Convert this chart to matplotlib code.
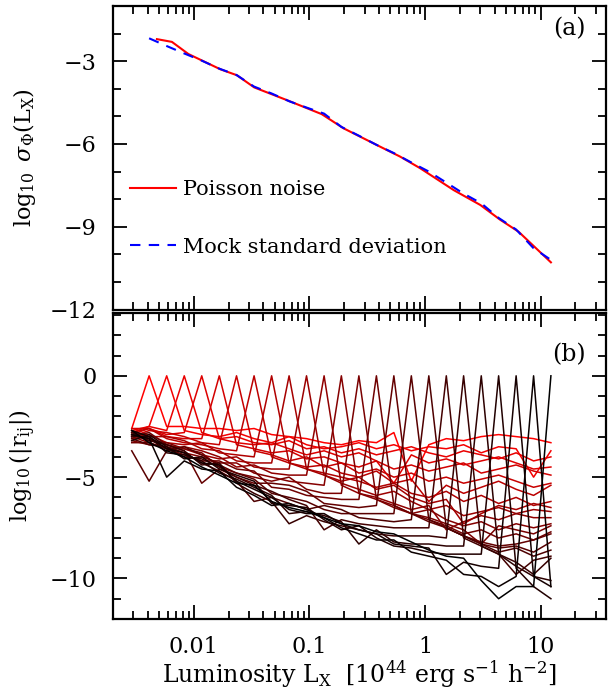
import numpy as np
import matplotlib
matplotlib.use("Agg")
import matplotlib.pyplot as plt
from matplotlib.ticker import LogLocator, MultipleLocator, NullFormatter

plt.rcParams['font.family'] = ['DejaVu Serif']
plt.rcParams['mathtext.fontset'] = 'dejavuserif'

# luminosity bin centres [1e44 erg s^-1 h^-2]
lx_bins = [0.0029, 0.0041, 0.00582, 0.00826, 0.0117, 0.0166, 0.0234, 0.0332,
           0.0471, 0.0667, 0.0944, 0.134, 0.189, 0.268, 0.380, 0.538, 0.762,
           1.08, 1.53, 2.16, 3.07, 4.34, 6.15, 8.71, 12.3]

# panel (a): Poisson noise (red) and mock standard deviation (blue dashed)
lx_poisson = [0.00479, 0.00646, 0.00897, 0.0169, 0.0236, 0.0333, 0.0638, 0.128,
              0.197, 0.384, 0.611, 0.910, 1.77, 3.01, 4.49, 6.46, 12.3]
sigma_poisson = [-2.20, -2.30, -2.74, -3.29, -3.51, -3.95, -4.41, -4.92,
                 -5.43, -6.04, -6.46, -6.88, -7.67, -8.21, -8.75, -9.18, -10.29]
lx_mock = lx_bins[1:]
sigma_mock = [-2.17, -2.45, -2.72, -2.98, -3.27, -3.50, -3.92, -4.17, -4.45,
              -4.68, -4.90, -5.38, -5.70, -6.03, -6.33, -6.67, -7.00, -7.40,
              -7.80, -8.15, -8.68, -9.10, -9.78, -10.20]

# panel (b): log10|r_ij|, upper triangle, row i holds j = i+1 .. 24
corr_upper = [
    [-2.6, -2.8, -2.7, -2.9, -2.6, -3.0, -2.8, -2.9, -3.1, -2.7, -3.0, -3.2,
     -2.9, -3.3, -3.0, -3.7, -3.1, -2.9, -2.8, -3.0, -3.2, -2.7, -2.9, -2.7],
    [-2.5, -2.5, -2.6, -2.6, -2.7, -2.6, -2.9, -3.0, -3.1, -3.3, -3.4, -3.2,
     -3.3, -2.8, -5.2, -3.4, -3.1, -3.2, -3.0, -2.9, -3.0, -3.1, -3.3],
    [-2.7, -2.9, -3.0, -2.8, -3.1, -3.3, -3.0, -3.4, -3.6, -3.5, -3.3, -3.6,
     -3.4, -3.7, -3.5, -3.6, -3.4, -3.8, -3.5, -3.6, -5.0, -3.7],
    [-2.8, -3.1, -3.0, -3.3, -3.4, -3.2, -3.6, -3.5, -3.8, -3.6, -3.9, -3.7,
     -3.5, -3.8, -4.0, -3.7, -3.9, -4.1, -3.8, -4.2, -4.0],
    [-3.1, -3.3, -3.4, -3.3, -3.6, -3.9, -3.7, -4.0, -3.8, -4.2, -5.3, -3.9,
     -4.3, -4.1, -4.4, -4.2, -4.0, -4.3, -4.6, -4.5],
    [-3.4, -3.6, -3.8, -3.7, -4.1, -4.0, -4.3, -4.5, -4.2, -4.6, -4.4, -4.7,
     -4.5, -4.3, -4.8, -4.6, -4.4, -4.7, -4.9],
    [-3.7, -3.9, -4.2, -4.0, -4.5, -4.3, -4.8, -4.6, -5.0, -4.8, -5.2, -5.0,
     -5.3, -5.1, -4.9, -5.2, -5.5, -5.3],
    [-4.0, -4.3, -4.5, -4.4, -4.8, -5.0, -4.7, -5.3, -5.1, -6.2, -5.4, -5.8,
     -5.5, -5.2, -5.6, -5.9, -5.4],
    [-4.3, -4.6, -4.8, -5.0, -5.2, -5.5, -5.3, -5.8, -6.0, -5.7, -6.2, -5.9,
     -6.3, -6.0, -6.4, -6.2],
    [-4.6, -4.9, -5.2, -5.0, -5.6, -5.4, -6.0, -6.3, -6.1, -7.3, -6.8, -6.4,
     -6.6, -6.3, -6.5],
    [-4.9, -5.3, -5.6, -5.9, -5.7, -6.2, -6.6, -6.4, -6.9, -6.7, -6.5, -6.8,
     -6.6, -6.7],
    [-5.4, -5.8, -6.0, -6.3, -6.6, -6.4, -7.6, -7.2, -6.9, -7.1, -6.8, -7.0,
     -7.0],
    [-5.8, -6.1, -6.4, -6.8, -6.6, -7.1, -7.4, -7.2, -7.6, -7.3, -7.5, -7.3],
    [-6.1, -6.5, -6.8, -7.0, -7.3, -7.6, -8.3, -7.4, -7.6, -7.8, -7.4],
    [-6.4, -6.8, -7.1, -7.4, -7.8, -7.6, -8.0, -7.8, -8.1, -7.7],
    [-6.8, -7.2, -7.5, -7.9, -8.2, -8.4, -8.3, -8.1, -7.8],
    [-7.1, -7.5, -7.9, -8.3, -8.5, -8.4, -8.7, -8.2],
    [-7.5, -7.9, -8.3, -8.7, -8.5, -8.9, -8.6],
    [-8.0, -8.4, -8.8, -9.8, -9.1, -8.9],
    [-8.4, -8.8, -9.2, -9.8, -9.0],
    [-8.8, -9.4, -9.9, -10.1],
    [-9.5, -10.4, -11.0],
    [-9.9, -10.4],
    [-10.4],
]

# full symmetric matrix (diagonal = log10(1) = 0)
nbin = len(lx_bins)
corr = np.zeros((nbin, nbin))
for i, row in enumerate(corr_upper):
    for k, val in enumerate(row):
        corr[i, i + 1 + k] = val
        corr[i + 1 + k, i] = val

fig = plt.figure(figsize=(6.08, 6.92), dpi=100)
ax_a = fig.add_axes([0.186, 0.5527, 0.811, 0.4386])
ax_b = fig.add_axes([0.186, 0.1055, 0.811, 0.4422], sharex=ax_a)

# panel (a)
ax_a.plot(lx_poisson, sigma_poisson, color='red', lw=1.5, label='Poisson noise')
ax_a.plot(lx_mock, sigma_mock, color='blue', lw=1.5, linestyle=(0, (5, 4)),
          label='Mock standard deviation')
ax_a.set_ylim(-12, -1)
ax_a.yaxis.set_major_locator(MultipleLocator(3))
ax_a.yaxis.set_minor_locator(MultipleLocator(1))
ax_a.set_ylabel(r'$\log_{10}\ \sigma_\Phi(\mathrm{L_X})$', fontsize=16)
ax_a.yaxis.set_label_coords(-0.152, 0.5)
ax_a.text(0.925, 0.925, '(a)', transform=ax_a.transAxes, fontsize=17,
          ha='center', va='center')
ax_a.legend(loc='center left', bbox_to_anchor=(0.035, 0.30), frameon=False,
            fontsize=15, handlelength=2.2, handletextpad=0.32,
            labelspacing=1.85, borderpad=0, borderaxespad=0)
plt.setp(ax_a.get_xticklabels(), visible=False)

# panel (b): one line per row, red -> black
nrow = nbin - 1
for i in range(1, nbin):
    shade = 1.0 - (i - 1) / (nrow - 1)
    ax_b.plot(lx_bins, corr[i], color=(shade, 0, 0), lw=1.1)
ax_b.set_ylim(-12, 3.1)
ax_b.yaxis.set_major_locator(MultipleLocator(5))
ax_b.yaxis.set_minor_locator(MultipleLocator(1))
ax_b.set_ylabel(r'$\log_{10}(|\mathrm{r_{ij}}|)$', fontsize=16)
ax_b.yaxis.set_label_coords(-0.152, 0.5)
ax_b.text(0.925, 0.863, '(b)', transform=ax_b.transAxes, fontsize=17,
          ha='center', va='center')

ax_b.set_xscale('log')
ax_b.set_xlim(0.002, 37)
ax_b.set_xticks([0.01, 0.1, 1, 10])
ax_b.set_xticklabels(['0.01', '0.1', '1', '10'])
ax_b.xaxis.set_minor_locator(LogLocator(base=10, subs=np.arange(2, 10)))
ax_b.xaxis.set_minor_formatter(NullFormatter())
ax_b.set_xlabel(r'Luminosity $\mathrm{L_X}$  [$10^{44}$ erg s$^{-1}$ h$^{-2}$]',
                fontsize=17)
ax_b.xaxis.set_label_coords(0.5, -0.13)

for ax in (ax_a, ax_b):
    ax.tick_params(which='both', direction='in', top=True, right=True,
                   labelsize=16, width=1.3)
    ax.tick_params(which='major', length=10)
    ax.tick_params(which='minor', length=5.5)
    ax.tick_params(axis='y', pad=12)
    ax.tick_params(axis='x', pad=12)
    for sp in ax.spines.values():
        sp.set_linewidth(1.6)

fig.savefig('out.png', dpi=100)
